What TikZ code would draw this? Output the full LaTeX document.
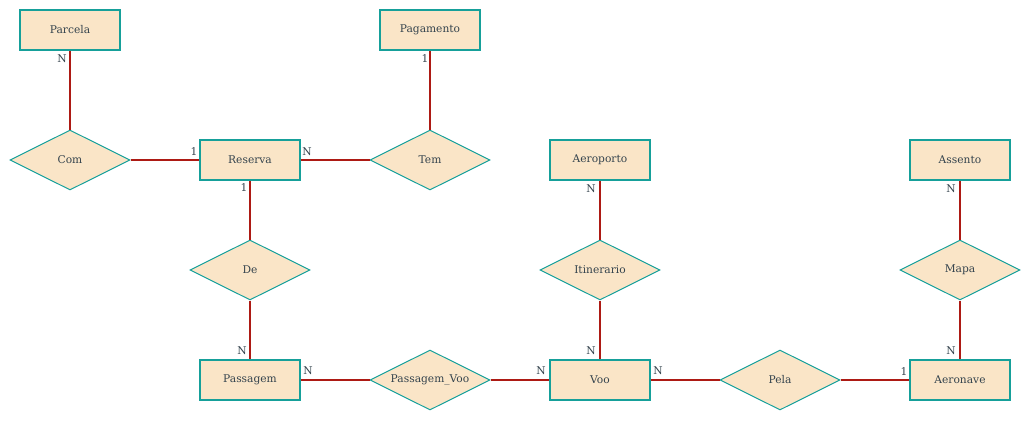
\documentclass[tikz,border=0pt]{standalone}
\usepackage{fontspec}
\setmainfont{DejaVu Serif}
\usetikzlibrary{shapes.geometric}
\definecolor{efill}{HTML}{FAE5C7}
\definecolor{estroke}{HTML}{16A09A}
\definecolor{lcol}{HTML}{AD1A14}
\definecolor{tcol}{HTML}{34434D}
\tikzset{
  ent/.style={draw=estroke, fill=efill, line width=0.9pt, minimum width=75pt, minimum height=30pt, inner sep=0pt, font=\fontsize{8}{9.5}\selectfont, text=tcol},
  rel/.style={draw=estroke, fill=efill, line width=0.75pt, diamond, minimum width=90pt, minimum height=45pt, inner sep=0pt, aspect=2, font=\fontsize{8}{9.5}\selectfont, text=tcol},
  conn/.style={draw=lcol, line width=0.9pt},
  card/.style={font=\fontsize{8}{9}\selectfont, text=tcol, inner sep=0pt}
}
\begin{document}
\begin{tikzpicture}[x=0.75pt,y=-0.75pt]
\useasboundingbox (0,0) rectangle (1031,421);
% entities
\node[ent] (parcela) at (70,30) {Parcela};
\node[ent] (pagamento) at (430,30) {Pagamento};
\node[ent] (reserva) at (250,160) {Reserva};
\node[ent] (aeroporto) at (600,160) {Aeroporto};
\node[ent] (assento) at (960,160) {Assento};
\node[ent] (passagem) at (250,380) {Passagem};
\node[ent] (voo) at (600,380) {Voo};
\node[ent] (aeronave) at (960,380) {Aeronave};
% relationships
\node[rel] (com) at (70,160) {Com};
\node[rel] (tem) at (430,160) {Tem};
\node[rel] (de) at (250,270) {De};
\node[rel] (itin) at (600,270) {Itinerario};
\node[rel] (mapa) at (960,270) {Mapa};
\node[rel] (pv) at (430,380) {Passagem\_Voo};
\node[rel] (pela) at (780,380) {Pela};
% connectors
\draw[conn] (parcela.south) -- (com.north);
\draw[conn] (com.east) -- (reserva.west);
\draw[conn] (reserva.east) -- (tem.west);
\draw[conn] (tem.north) -- (pagamento.south);
\draw[conn] (reserva.south) -- (de.north);
\draw[conn] (de.south) -- (passagem.north);
\draw[conn] (passagem.east) -- (pv.west);
\draw[conn] (pv.east) -- (voo.west);
\draw[conn] (voo.north) -- (itin.south);
\draw[conn] (itin.north) -- (aeroporto.south);
\draw[conn] (voo.east) -- (pela.west);
\draw[conn] (pela.east) -- (aeronave.west);
\draw[conn] (aeronave.north) -- (mapa.south);
\draw[conn] (mapa.north) -- (assento.south);
% cardinalities
\node[card] (c1) at (62,59) {N};
\node[card] (c2) at (425,59) {1};
\node[card] (c3) at (194,152) {1};
\node[card] (c4) at (307,152) {N};
\node[card] (c5) at (244,188) {1};
\node[card] (c6) at (591,189) {N};
\node[card] (c7) at (951,189) {N};
\node[card] (c8) at (242,351) {N};
\node[card] (c9) at (308,371) {N};
\node[card] (c10) at (541,371) {N};
\node[card] (c11) at (591,351) {N};
\node[card] (c12) at (658,371) {N};
\node[card] (c13) at (904,372) {1};
\node[card] (c14) at (951,351) {N};
\end{tikzpicture}
\end{document}
